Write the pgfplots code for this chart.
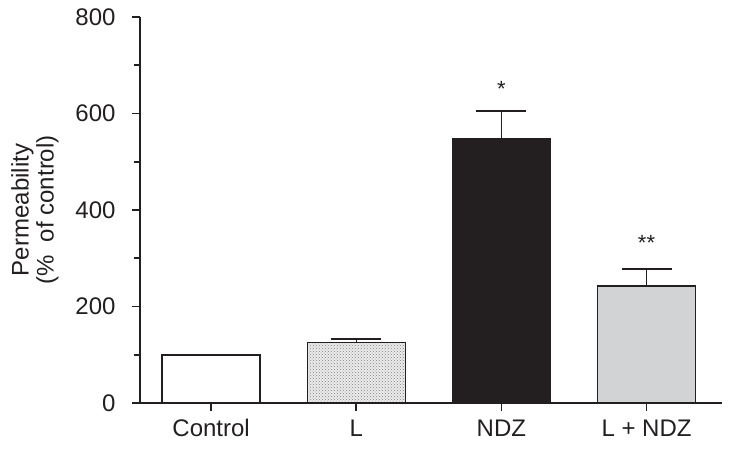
\documentclass[border=0pt]{standalone}
\usepackage{fontspec}
\setmainfont{Liberation Sans}
\usepackage{pgfplots}
\pgfplotsset{compat=1.18}
\usetikzlibrary{patterns}
\definecolor{ink}{HTML}{231F20}
\definecolor{lgray}{HTML}{D1D3D4}
\begin{document}
\begin{tikzpicture}
\begin{axis}[
  scale only axis, width=582pt, height=386pt,
  xmin=-0.49, xmax=3.52, ymin=0, ymax=800,
  axis x line*=bottom, axis y line*=left,
  axis line style={line width=1.6pt, ink},
  xtick={0,1,2,3}, xticklabels={Control, L, NDZ, L + NDZ},
  ytick={0,200,400,600,800}, minor ytick={100,300,500,700},
  tick align=outside, major tick length=8pt, minor tick length=6pt,
  tick style={line width=1.6pt, ink},
  tick label style={font=\fontsize{24}{26}\selectfont, text=ink},
  yticklabel style={xshift=-13pt},
  xticklabel style={yshift=-5pt},
  label style={font=\fontsize{24}{25}\selectfont, text=ink},
  /pgf/number format/assume math mode=true,
  ylabel={Permeability\\(\%\ \ of control)},
  ylabel style={align=center, at={(axis description cs:-0.2216,0.5)}, anchor=north, inner sep=0pt},
  clip=false,
]
\addplot[ybar, bar width=98pt, bar shift=0pt, fill=white, draw=ink, line width=1.5pt]
  coordinates {(0,100)};
\addplot[ybar, bar width=98pt, bar shift=0pt, fill=gray!15, draw=ink, line width=1.5pt,
  postaction={pattern=crosshatch dots, pattern color=gray},
  error bars/.cd, y dir=plus, y explicit,
  error bar style={line width=1.5pt, ink},
  error mark options={rotate=90, mark size=25pt, line width=1.5pt, ink}]
  coordinates {(1,125) +- (0,8)};
\addplot[ybar, bar width=98pt, bar shift=0pt, fill=ink, draw=ink, line width=1.5pt,
  error bars/.cd, y dir=plus, y explicit,
  error bar style={line width=1.5pt, ink},
  error mark options={rotate=90, mark size=25pt, line width=1.5pt, ink}]
  coordinates {(2,547) +- (0,58)};
\addplot[ybar, bar width=98pt, bar shift=0pt, fill=lgray, draw=ink, line width=1.5pt,
  error bars/.cd, y dir=plus, y explicit,
  error bar style={line width=1.5pt, ink},
  error mark options={rotate=90, mark size=25pt, line width=1.5pt, ink}]
  coordinates {(3,243) +- (0,35)};
\node[anchor=base, inner sep=0pt, font=\fontsize{22}{22}\selectfont, text=ink] at (axis cs:2,635) {*};
\node[anchor=base, inner sep=0pt, font=\fontsize{22}{22}\selectfont, text=ink] at (axis cs:3,316) {**};
\coordinate (ll) at (rel axis cs:0,0);
\coordinate (ur) at (rel axis cs:1,1);
\end{axis}
\pgfresetboundingbox
\path[use as bounding box] ([xshift=-140pt,yshift=-49pt]ll) rectangle ([xshift=10pt,yshift=17pt]ur);
\end{tikzpicture}
\end{document}
